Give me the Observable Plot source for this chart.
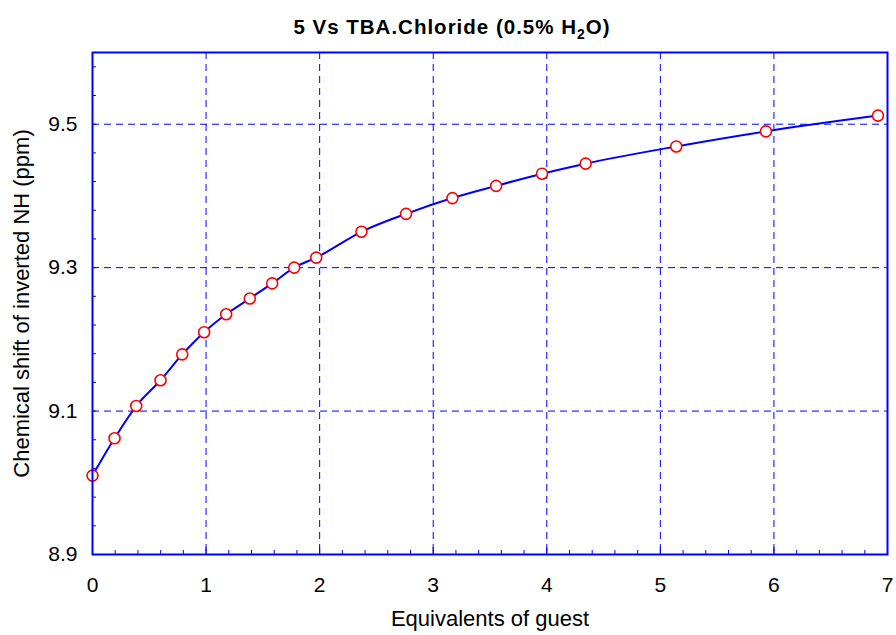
<!DOCTYPE html>
<html><head><meta charset="utf-8">
<script src="https://cdn.jsdelivr.net/npm/d3@7"></script>
<script src="https://cdn.jsdelivr.net/npm/@observablehq/plot@0.6"></script>
<style>body{margin:0;background:#fff;}</style>
</head><body><div id="chart"></div>
<script>
const equivalents = [0, 0.194, 0.385, 0.599, 0.79, 0.983, 1.177, 1.385, 1.582, 1.776, 1.97, 2.368, 2.761, 3.169, 3.554, 3.958, 4.342, 5.14, 5.93, 6.916];
const shifts = [9.010, 9.062, 9.107, 9.143, 9.179, 9.210, 9.235, 9.257, 9.278, 9.300, 9.314, 9.350, 9.375, 9.397, 9.414, 9.431, 9.445, 9.469, 9.490, 9.512];
const xTicks = [0, 1, 2, 3, 4, 5, 6, 7];
const yTicks = [8.9, 9.1, 9.3, 9.5];
const xGrid = [1, 2, 3, 4, 5, 6];
const yGrid = [9.1, 9.3, 9.5];
const xMinor = d3.range(1, 35).map(i => i / 5);
const yMinor = d3.range(1, 18).map(i => 8.9 + i * 0.04);
const titleMain = "5 Vs TBA.Chloride (0.5% H";
const titleSub = "2";
const titleEnd = "O)";
const xLabel = "Equivalents of guest";
const yLabel = "Chemical shift of inverted NH (ppm)";

const data = equivalents.map((x, i) => ({x, y: shifts[i]}));
const blue = "#0000ff";
const font = "'Liberation Sans', Arial, sans-serif";

const chart = Plot.plot({
  width: 896, height: 635,
  marginTop: 52, marginRight: 9, marginBottom: 81, marginLeft: 92,
  style: {fontFamily: font, fontSize: "21px", background: "#fff", color: "#000"},
  x: {domain: [0, 7], label: null},
  y: {domain: [8.9, 9.6], label: null},
  marks: [
    Plot.gridX(xGrid, {stroke: blue, strokeOpacity: 1, strokeDasharray: "7,5"}),
    Plot.gridY(yGrid, {stroke: blue, strokeOpacity: 1, strokeDasharray: "7,5"}),
    Plot.line(data, {x: "x", y: "y", stroke: blue, strokeWidth: 2, curve: "monotone-x"}),
    Plot.dot(data, {x: "x", y: "y", r: 5.5, stroke: "#ff0000", strokeWidth: 1.6, fill: "white"}),
    Plot.axisX(xMinor, {tickSize: -4, text: null, stroke: blue, label: null}),
    Plot.axisX(xTicks, {tickSize: -7, text: null, stroke: blue, label: null}),
    Plot.axisX(xTicks, {tickSize: 0, tickPadding: 23, tickFormat: d3.format("d"), fontSize: 21, label: null}),
    Plot.axisY(yMinor, {tickSize: -4, text: null, stroke: blue, label: null}),
    Plot.axisY(yTicks, {tickSize: 0, tickPadding: 15, tickFormat: d3.format(".1f"), fontSize: 21, label: null}),
    Plot.frame({stroke: blue, strokeWidth: 2}),
    Plot.text([xLabel], {frameAnchor: "bottom", dy: 71, fontSize: 22}),
    Plot.text([yLabel], {frameAnchor: "left", dx: -71, rotate: -90, textAnchor: "middle", fontSize: 22})
  ]
});

const svg = d3.select(chart);
const t = svg.append("text")
  .attr("x", 452).attr("y", 34)
  .attr("text-anchor", "middle")
  .attr("font-weight", "bold")
  .attr("font-size", 20.5)
  .attr("letter-spacing", "1px")
  .attr("font-family", font)
  .attr("fill", "#000");
t.append("tspan").text(titleMain);
t.append("tspan").attr("font-size", 14).attr("dy", 5).text(titleSub);
t.append("tspan").attr("dy", -5).text(titleEnd);

document.getElementById("chart").appendChild(chart);
</script>
</body></html>
